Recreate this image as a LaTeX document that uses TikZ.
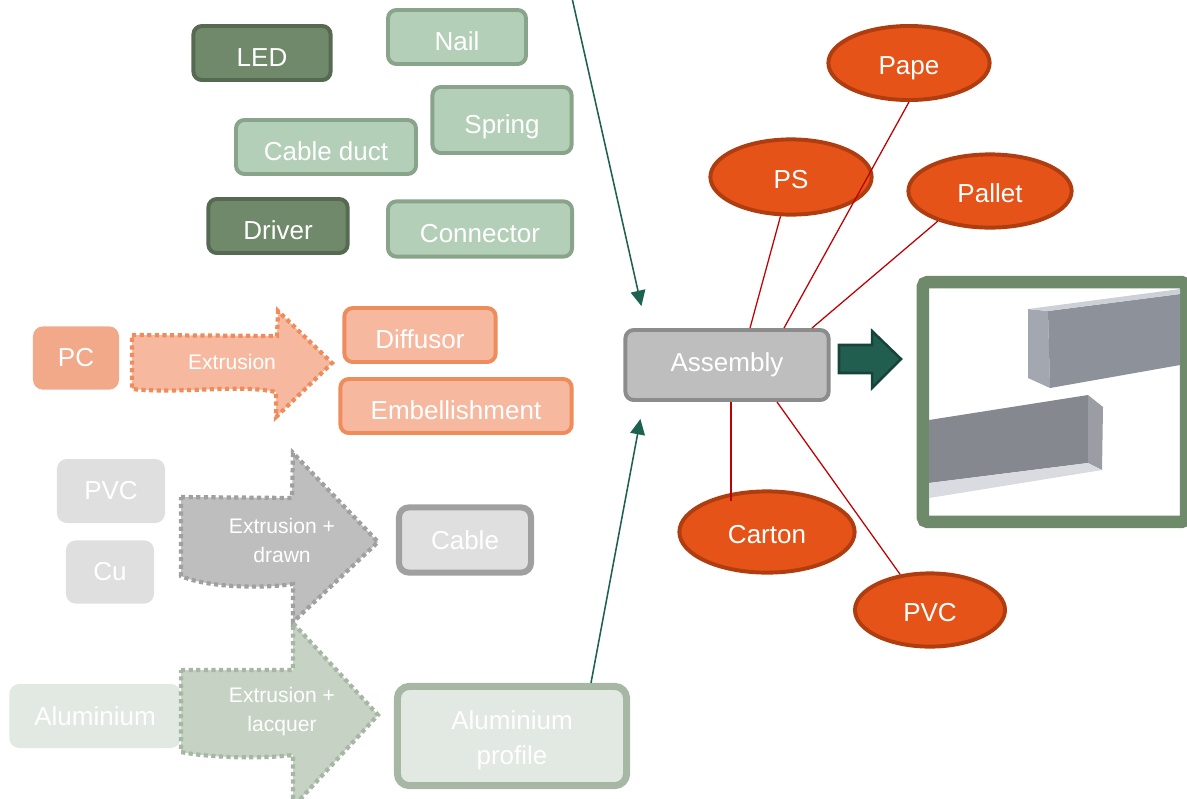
\documentclass[tikz,border=0pt]{standalone}
\usepackage{fontspec}
\setmainfont{Liberation Sans}
\usetikzlibrary{shapes.geometric,calc,arrows.meta}

\definecolor{darkleaf}{HTML}{6F896A}
\definecolor{darkleafline}{HTML}{566A52}
\definecolor{leaf}{HTML}{B4CFB7}
\definecolor{leafline}{HTML}{8AA38B}
\definecolor{salmon}{HTML}{F2A98A}
\definecolor{salmonlight}{HTML}{F6B9A0}
\definecolor{salmonline}{HTML}{EF8C5C}
\definecolor{greylight}{HTML}{DFDFDF}
\definecolor{greymid}{HTML}{BEBEBE}
\definecolor{greyline}{HTML}{A0A0A0}
\definecolor{greydark}{HTML}{8C8C8C}
\definecolor{sage}{HTML}{E2E8E2}
\definecolor{sagemid}{HTML}{C6D2C4}
\definecolor{sageline}{HTML}{A6B8A4}
\definecolor{feedteal}{HTML}{1D6151}
\definecolor{blockfill}{HTML}{215E50}
\definecolor{blockline}{HTML}{17443A}
\definecolor{packfill}{HTML}{E65318}
\definecolor{packline}{HTML}{B03D10}
\definecolor{packred}{HTML}{C00000}
\definecolor{photoframe}{HTML}{6E8A6A}

\begin{document}
\begin{tikzpicture}[x=0.025cm,y=-0.025cm,
		every node/.style={font=\fontsize{18.5}{25}\selectfont,text=white,inner sep=0pt},
		sz/.style 2 args={minimum width=#1,minimum height=#2},
		low/.style={text height=19pt,text depth=0pt},
		part/.style={rectangle,rounded corners=6pt,line width=2.8pt,align=center},
		dark/.style={part,low,fill=darkleaf,draw=darkleafline},
		light/.style={part,low,fill=leaf,draw=leafline},
		raw/.style={rectangle,rounded corners=7pt,align=center},
		pack/.style={ellipse,fill=packfill,draw=packline,line width=2.8pt,text height=17pt,text depth=0pt},
		dots/.style={line width=3pt,dash pattern=on 3pt off 2.4pt},
		flowtext/.style={font=\fontsize{15}{20.6}\selectfont,align=center},
		feed/.style={draw=feedteal,line width=1.1pt,-{Triangle[length=11pt,width=10.5pt]}},
		tie/.style={draw=packred,line width=0.9pt}]
		\useasboundingbox (0,0) rectangle (1187,798);
		%Parts
		\node[dark,sz={3.43cm}{1.35cm}] (led) at (262,53) {LED};
		\node[light,sz={3.45cm}{1.35cm}] (nail) at (457,37) {Nail};
		\node[light,sz={3.48cm}{1.65cm}] (spring) at (502,120) {Spring};
		\node[light,sz={4.5cm}{1.35cm}] (duct) at (326,147) {Cable duct};
		\node[dark,sz={3.48cm}{1.35cm}] (driver) at (278,226) {Driver};
		\node[light,sz={4.6cm}{1.38cm}] (conn) at (480,229) {Connector};
		%PC
		\node[raw,fill=salmon,sz={2.15cm}{1.58cm}] (pc) at (76,358) {PC};
		\draw[dots,fill=salmonlight,draw=salmonline] (132,335) -- (277,336) -- (278,311) -- (332,363) -- (276,417) -- (276,392) .. controls (240,384) and (180,394) .. (132,389) -- cycle;
		\node[flowtext] (extpc) at (232,362) {Extrusion};
		\node[part,low,fill=salmonlight,draw=salmonline,sz={3.78cm}{1.35cm}] (diff) at (420,335) {Diffusor};
		\node[part,low,fill=salmonlight,draw=salmonline,sz={5.78cm}{1.35cm}] (emb) at (456,406) {Embellishment};
		%Cable
		\node[raw,fill=greylight,sz={2.7cm}{1.6cm}] (pvc) at (111,491) {PVC};
		\node[raw,fill=greylight,sz={2.2cm}{1.58cm}] (cu) at (110,572) {Cu};
		\draw[dots,fill=greymid,draw=greyline] (181,497) -- (292,498) -- (293,453) -- (378,542) -- (293,622) -- (293,584) .. controls (250,590) and (200,585) .. (181,576) -- cycle;
		\node[flowtext] (extcu) at (282,540) {Extrusion +\\drawn};
		\node[part,fill=greylight,draw=greyline,line width=4.3pt,rounded corners=7pt,sz={3.3cm}{1.63cm}] (cable) at (465,540) {Cable};
		%Aluminium
		\node[raw,fill=sage,sz={4.28cm}{1.6cm}] (alu) at (95,716) {Aluminium};
		\draw[dots,fill=sagemid,draw=sageline] (181,670) -- (293,670) -- (293,623) -- (378,715) -- (293,807) -- (293,755) .. controls (250,760) and (200,756) .. (181,752) -- cycle;
		\node[flowtext] (extal) at (282,712) {Extrusion +\\lacquer};
		\node[part,fill=sage,draw=sageline,line width=5pt,rounded corners=8.5pt,sz={5.73cm}{2.48cm}] (prof) at (512,736) {\rule{0pt}{19.5pt}Aluminium\\profile};
		%Assembly
		\node[part,fill=greymid,draw=greydark,sz={5.08cm}{1.75cm}] (asm) at (727,365) {Assembly};
		\coordinate (topin) at (572,-2);
		\draw[feed] (topin) -- ($(asm.north west)+(18,-22)$);
		\draw[feed] ($(prof.north)+(79,0)$) -- ($(asm.south west)+(17,17)$);
		%Product
		\draw[fill=blockfill,draw=blockline,line width=1.8pt] (839,345) -- (872,345) -- (872,331) -- (901,359) -- (872,388) -- (872,373) -- (839,373) -- cycle;
		\node[draw=photoframe,fill=white,line width=8.8pt,rounded corners=3pt,sz={6.58cm}{5.99cm}] (photo) at (1054.5,402) {};
		\fill[color={rgb,255:red,163;green,167;blue,175}] (1028,309) -- (1048,311) -- (1050,388) -- (1028,378) -- cycle;
		\fill[color={rgb,255:red,141;green,145;blue,154}] (1048,311) -- (1180,294) -- (1180,365) -- (1050,388) -- cycle;
		\fill[color={rgb,255:red,205;green,208;blue,214}] (1028,309) -- (1180,289) -- (1180,294) -- (1048,311) -- cycle;
		\fill[color={rgb,255:red,134;green,136;blue,143}] (929,420) -- (1088,395) -- (1088,463) -- (929,483) -- cycle;
		\fill[color={rgb,255:red,155;green,157;blue,164}] (1088,395) -- (1103,407) -- (1102,470) -- (1088,463) -- cycle;
		\fill[color={rgb,255:red,217;green,219;blue,224}] (929,483) -- (1088,463) -- (1102,470) -- (929,498) -- cycle;
		%Packaging
		\node[pack,sz={4.03cm}{1.85cm}] (pape) at (909,63) {Pape};
		\node[pack,sz={4.03cm}{1.88cm}] (ps) at (791,177) {PS};
		\node[pack,sz={4.08cm}{1.83cm}] (pallet) at (990,191) {Pallet};
		\node[pack,sz={4.38cm}{2.03cm}] (carton) at (767,532) {Carton};
		\node[pack,sz={3.75cm}{1.83cm}] (pvcpack) at (930,610) {PVC};
		\draw[tie] (ps.-105) -- ($(asm.north)+(23,0)$);
		\draw[tie] (pape.south) -- ($(asm.north)+(57,0)$);
		\draw[tie] (pallet.-150) -- ($(asm.north)+(85,0)$);
		\draw[tie] ($(asm.south)+(4,0)$) -- ($(carton.north)+(-36,12)$);
		\draw[tie] ($(asm.south)+(50,0)$) -- (pvcpack.130);
\end{tikzpicture}
\end{document}
